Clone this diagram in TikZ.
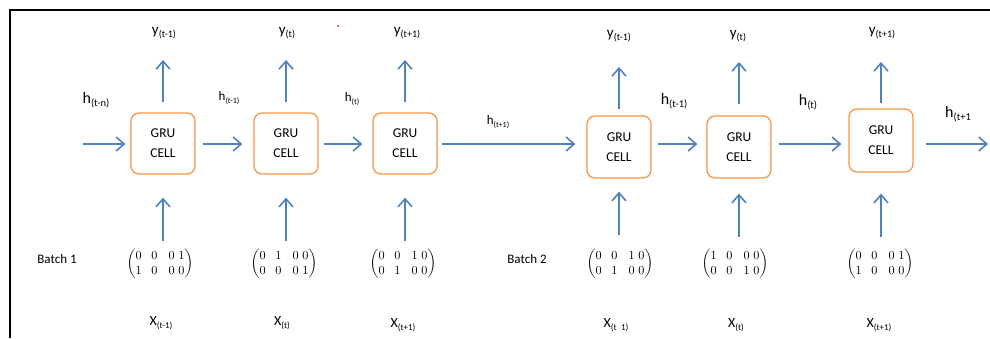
\documentclass[tikz,border=0pt]{standalone}
\usepackage{fontspec}
\setmainfont{Carlito}
\usetikzlibrary{arrows.meta}

\definecolor{flowblue}{RGB}{79,129,189}
\definecolor{cellorange}{RGB}{247,150,70}

% symbol with a lowered, smaller index: {symbol}{index}{size}{index size}
\newcommand\sublab[4]{{\fontsize{#3}{#3}\selectfont #1\raisebox{-2.6pt}{\fontsize{#4}{#4}\selectfont #2}}}
% 2x4 one-hot block in round brackets
\newcommand\onehot[8]{$\left(\begin{array}{@{}c@{\hspace{8pt}}c@{\hspace{9pt}}c@{\hspace{3pt}}c@{}}#1&#2&#3&#4\\#5&#6&#7&#8\end{array}\right)$}

\begin{document}
\begin{tikzpicture}[x=1pt,y=-1pt,
  cell/.style={draw=cellorange, line width=1.3pt, rounded corners=8pt,
    minimum width=64pt, inner sep=0pt, align=center,
    font=\fontsize{13.5}{20}\selectfont},
  flow/.style={draw=flowblue, line width=1.6pt,
    -{Straight Barb[length=8pt,width=14pt,line width=1.6pt]}},
  lbl/.style={inner sep=0pt},
  mat/.style={inner sep=0pt, scale=1.22},
]
\useasboundingbox (0,0) rectangle (990,338);

% frame edges
\draw[line width=1.8pt] (10,338) -- (10,10) -- (990,10);
\fill[red] (338,26) circle (1pt);

% cells
\node[cell, minimum height=61pt] (b1) at (163,143.5) {GRU\\CELL};
\node[cell, minimum height=61pt] (b2) at (286,143.5) {GRU\\CELL};
\node[cell, minimum height=61pt] (b3) at (405,143.5) {GRU\\CELL};
\node[cell, minimum height=62pt] (b4) at (619,147) {GRU\\CELL};
\node[cell, minimum height=62pt] (b5) at (739,147) {GRU\\CELL};
\node[cell, minimum height=63pt] (b6) at (881,140.5) {GRU\\CELL};

% outputs
\node[lbl] (y1) at (164,33) {\sublab{y}{(t-1)}{15}{10}};
\node[lbl] (y2) at (287,33) {\sublab{y}{(t)}{15}{10}};
\node[lbl] (y3) at (407,33) {\sublab{y}{(t+1)}{15}{10}};
\node[lbl] (y4) at (619,36) {\sublab{y}{(t-1)}{15}{10}};
\node[lbl] (y5) at (738,36) {\sublab{y}{(t)}{15}{10}};
\node[lbl] (y6) at (882,33) {\sublab{y}{(t+1)}{15}{10}};

% hidden states
\node[lbl] (h0) at (96,100) {\sublab{h}{(t-n)}{16}{10.5}};
\node[lbl] (h1) at (229,98) {\sublab{h}{(t-1)}{13}{8}};
\node[lbl] (h2) at (352,99) {\sublab{h}{(t)}{13}{8}};
\node[lbl] (h3) at (498,122) {\sublab{h}{(t+1)}{13}{8}};
\node[lbl] (h4) at (674,101) {\sublab{h}{(t-1)}{16}{10.5}};
\node[lbl] (h5) at (808,102) {\sublab{h}{(t)}{16}{10.5}};
\node[lbl] (h6) at (958,114) {\sublab{h}{(t+1}{16}{10.5}};

% batch labels
\node[lbl, font=\fontsize{13}{13}\selectfont] (bt1) at (57,259) {Batch 1};
\node[lbl, font=\fontsize{13}{13}\selectfont] (bt2) at (527,259) {Batch 2};

% inputs
\node[mat] (m1) at (160,264) {\onehot 0001 1000};
\node[mat] (m2) at (284,264) {\onehot 0100 0001};
\node[mat] (m3) at (403,264) {\onehot 0010 0100};
\node[mat] (m4) at (620,264) {\onehot 0010 0100};
\node[mat] (m5) at (735,264) {\onehot 1000 0010};
\node[mat] (m6) at (880,264) {\onehot 0001 1000};

\node[lbl] (x1) at (161,323) {\sublab{X}{(t-1)}{14}{9}};
\node[lbl] (x2) at (282,323) {\sublab{X}{(t)}{14}{9}};
\node[lbl] (x3) at (403,325) {\sublab{X}{(t+1)}{14}{9}};
\node[lbl] (x4) at (616,325) {\sublab{X}{(t\enspace 1)}{14}{9}};
\node[lbl] (x5) at (736,325) {\sublab{X}{(t)}{14}{9}};
\node[lbl] (x6) at (879,325) {\sublab{X}{(t+1)}{14}{9}};

% recurrent chain
\coordinate (hin) at (83,144);
\coordinate (hout) at (988,144);
\draw[flow, shorten >=5pt] (hin) -- (b1.west |- hin);
\draw[flow, shorten <=7pt, shorten >=11pt] (b1.east |- hin) -- (b2.west |- hin);
\draw[flow, shorten <=5pt, shorten >=10pt] (b2.east |- hin) -- (b3.west |- hin);
\draw[flow, shorten <=4pt, shorten >=11pt] (b3.east |- hin) -- (b4.west |- hin);
\draw[flow, shorten <=6pt, shorten >=9pt] (b4.east |- hin) -- (b5.west |- hin);
\draw[flow, shorten <=7pt, shorten >=7pt] (b5.east |- hin) -- (b6.west |- hin);
\draw[flow, shorten <=12pt] (b6.east |- hin) -- (hout);

% cell outputs
\draw[flow, shorten <=10pt, shorten >=27pt] (b1.north) -- (b1.north |- y1.center);
\draw[flow, shorten <=10pt, shorten >=27pt] (b2.north) -- (b2.north |- y2.center);
\draw[flow, shorten <=10pt, shorten >=27pt] (b3.north) -- (b3.north |- y3.center);
\draw[flow, shorten <=6pt, shorten >=31pt] (b4.north) -- (b4.north |- y4.center);
\draw[flow, shorten <=11pt, shorten >=26pt] (b5.north) -- (b5.north |- y5.center);
\draw[flow, shorten <=5pt, shorten >=29pt] (b6.north) -- (b6.north |- y6.center);

% cell inputs
\draw[flow, shorten <=23pt, shorten >=23pt] (b1.south |- m1.center) -- (b1.south);
\draw[flow, shorten <=23pt, shorten >=23pt] (b2.south |- m2.center) -- (b2.south);
\draw[flow, shorten <=23pt, shorten >=23pt] (b3.south |- m3.center) -- (b3.south);
\draw[flow, shorten <=29pt, shorten >=13pt] (b4.south |- m4.center) -- (b4.south);
\draw[flow, shorten <=27pt, shorten >=15pt] (b5.south |- m5.center) -- (b5.south);
\draw[flow, shorten <=27pt, shorten >=21pt] (b6.south |- m6.center) -- (b6.south);
\end{tikzpicture}
\end{document}
